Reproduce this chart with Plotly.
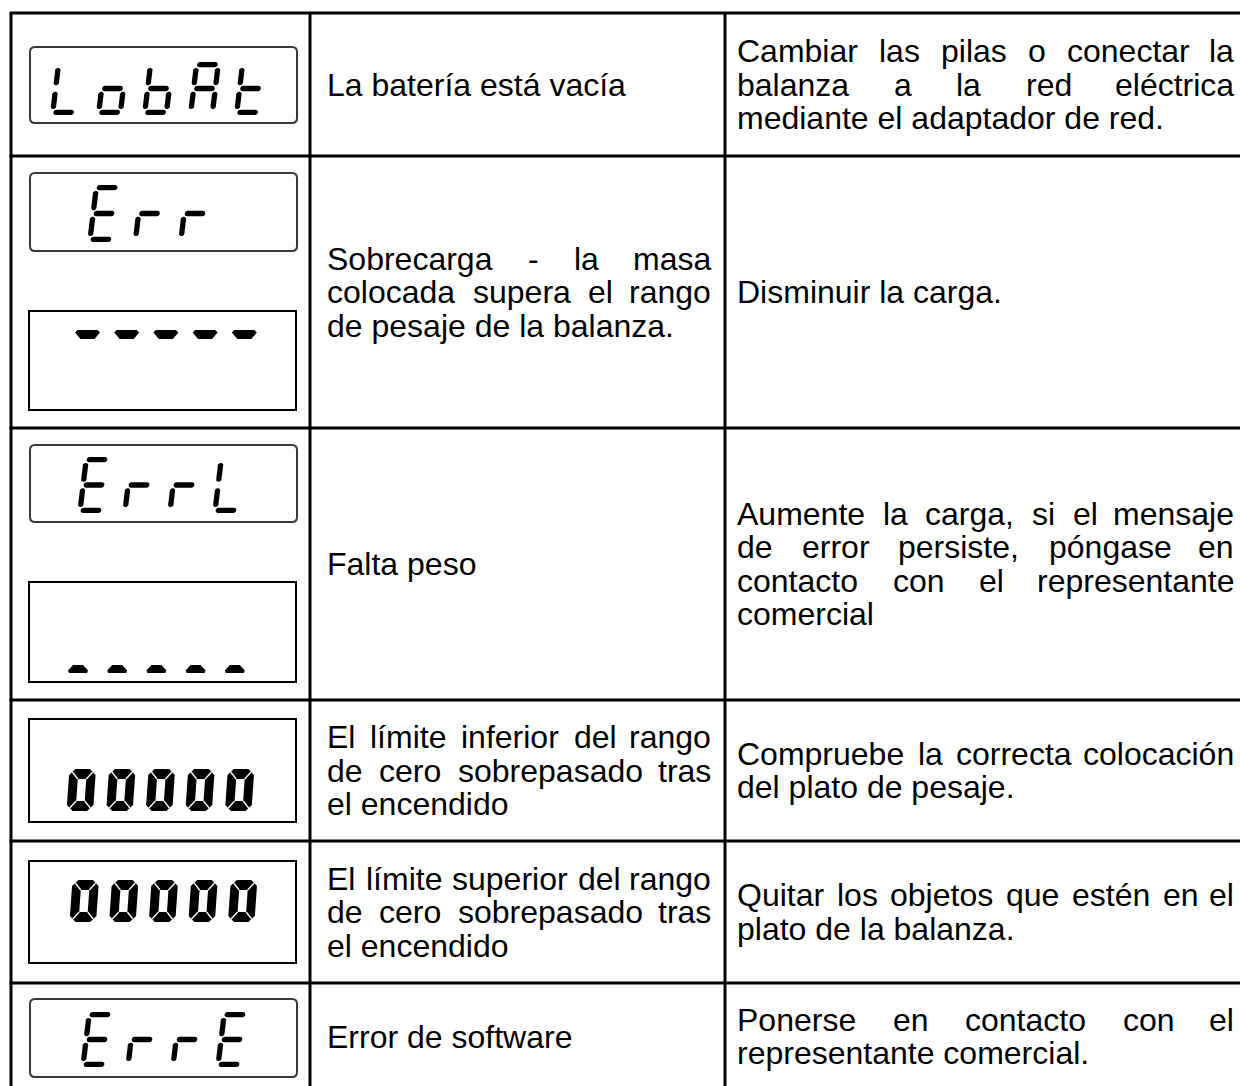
import math
import plotly.graph_objects as go

# ---------------- data ----------------
displays = ["LobAt", "Err|-----", "ErrL|_____", "00000", "00000", "ErrE"]

col2_lines = [
    ["La batería está vacía"],
    ["Sobrecarga - la masa", "colocada supera el rango", "de pesaje de la balanza."],
    ["Falta peso"],
    ["El límite inferior del rango", "de cero sobrepasado tras", "el encendido"],
    ["El límite superior del rango", "de cero sobrepasado tras", "el encendido"],
    ["Error de software"],
]
col3_lines = [
    ["Cambiar las pilas o conectar la", "balanza a la red eléctrica", "mediante el adaptador de red."],
    ["Disminuir la carga."],
    ["Aumente la carga, si el mensaje", "de error persiste, póngase en",
     "contacto con el representante", "comercial"],
    ["Compruebe la correcta colocación", "del plato de pesaje."],
    ["Quitar los objetos que estén en el", "plato de la balanza."],
    ["Ponerse en contacto con el", "representante comercial."],
]

# seven-segment maps
SEG = {'L': 'def', 'o': 'cdeg', 'b': 'cdefg', 'A': 'abcefg', 't': 'defg',
       'E': 'adefg', 'r': 'eg', '0': 'abcdef'}

# ---------------- layout ----------------
W_IMG, H_IMG = 1240, 1086
row_edges = [13, 156, 428, 700, 841, 983, 1090]
col_edges = [11, 310, 725, 1252]
FS = 32
LS = 33.5
FONT = "Liberation Sans, Arial, sans-serif"
C2L, C2R = 326, 712
C3L, C3R = 736, 1235

HW = {' ': 278, 'a': 556, 'b': 556, 'c': 500, 'd': 556, 'e': 556, 'f': 278, 'g': 556, 'h': 556,
      'i': 222, 'j': 222, 'k': 500, 'l': 222, 'm': 833, 'n': 556, 'o': 556, 'p': 556, 'q': 556,
      'r': 333, 's': 500, 't': 278, 'u': 556, 'v': 500, 'w': 722, 'x': 500, 'y': 500, 'z': 500,
      'A': 667, 'B': 667, 'C': 722, 'D': 722, 'E': 667, 'F': 611, 'G': 778, 'H': 722, 'I': 278,
      'J': 500, 'K': 667, 'L': 556, 'M': 833, 'N': 722, 'O': 778, 'P': 667, 'Q': 778, 'R': 722,
      'S': 667, 'T': 611, 'U': 722, 'V': 667, 'W': 944, 'X': 667, 'Y': 667, 'Z': 611,
      '.': 278, ',': 278, '-': 333, 'á': 556, 'é': 556, 'í': 278, 'ó': 556, 'ú': 556, 'ñ': 556}


def tw(s):
    return sum(HW.get(ch, 556) for ch in s) * FS / 1000.0


fig = go.Figure()
fig.add_trace(go.Scatter(x=[0], y=[0], mode="markers", marker=dict(opacity=0),
                         hoverinfo="skip", showlegend=False))

shapes = []
annotations = []

# table grid
for y in row_edges:
    shapes.append(dict(type="line", x0=col_edges[0] - 1.5, x1=col_edges[-1], y0=y, y1=y,
                       line=dict(color="black", width=3)))
for x in col_edges:
    shapes.append(dict(type="line", x0=x, x1=x, y0=row_edges[0], y1=row_edges[-1],
                       line=dict(color="black", width=3)))


def add_text(lines, left, right, yc):
    n = len(lines)
    for i, line in enumerate(lines):
        y = yc + (i - (n - 1) / 2.0) * LS
        justify = (i < n - 1)
        words = line.split(" ")
        if justify and len(words) > 1:
            widths = [tw(w) for w in words]
            gap = (right - left - sum(widths)) / (len(words) - 1)
            x = left
            for j, w in enumerate(words):
                if j == len(words) - 1:
                    annotations.append(dict(x=right + 1, y=y, text=w, xanchor="right"))
                else:
                    annotations.append(dict(x=x - 1, y=y, text=w, xanchor="left"))
                x += widths[j] + gap
        else:
            annotations.append(dict(x=left - 1, y=y, text=line, xanchor="left"))


for r in range(6):
    yc = (row_edges[r] + row_edges[r + 1]) / 2.0
    add_text(col2_lines[r], C2L, C2R, yc)
    add_text(col3_lines[r], C3L, C3R, yc)


# ---------------- LCD drawing helpers ----------------
def pth(pts):
    return "M " + " L ".join(f"{x:.2f},{y:.2f}" for x, y in pts) + " Z"


def poly(pts, color="black"):
    shapes.append(dict(type="path", path=pth(pts), fillcolor=color,
                       line=dict(width=0), layer="above"))


def skew(pts, yc, k):
    return [(x + k * (yc - y), y) for x, y in pts]


def capsule(p1, p2, r, n=7):
    dx, dy = p2[0] - p1[0], p2[1] - p1[1]
    ang = math.atan2(dy, dx)
    pts = []
    for i in range(n + 1):
        a = ang - math.pi / 2 + math.pi * i / n
        pts.append((p2[0] + r * math.cos(a), p2[1] + r * math.sin(a)))
    for i in range(n + 1):
        a = ang + math.pi / 2 + math.pi * i / n
        pts.append((p1[0] + r * math.cos(a), p1[1] + r * math.sin(a)))
    return pts


def thin_char(ch, cx, y0, H, W=27, t=5.3, k=0.12):
    oh = 0.6 * t    # horizontal inset
    ov = 1.1 * t    # vertical inset
    xl, xr = cx - W / 2 + t / 2, cx + W / 2 - t / 2
    yt, ym, yb = y0 + t / 2, y0 + H / 2, y0 + H - t / 2
    yc = y0 + H / 2
    r = t / 2
    segs = {
        'a': capsule((xl + oh, yt), (xr - oh, yt), r),
        'b': capsule((xr, yt + ov), (xr, ym - ov), r),
        'c': capsule((xr, ym + ov), (xr, yb - ov), r),
        'd': capsule((xl + oh, yb), (xr - oh, yb), r),
        'e': capsule((xl, ym + ov), (xl, yb - ov), r),
        'f': capsule((xl, yt + ov), (xl, ym - ov), r),
        'g': capsule((xl + oh, ym), (xr - oh, ym), r)}
    for s in SEG[ch]:
        poly(skew(segs[s], yc, k))


def bold_zero(x0, y0, H=42, W=26.5, th=10, tv=9, c=6, k=0.07):
    yc = y0 + H / 2
    x1, y1 = x0 + W, y0 + H
    outer = [(x0 + c, y0), (x1 - c, y0), (x1, y0 + c), (x1, y1 - c), (x1 - c, y1),
             (x0 + c, y1), (x0, y1 - c), (x0, y0 + c)]
    poly(skew(outer, yc, k))
    ix0, ix1, iy0, iy1 = x0 + tv, x1 - tv, y0 + th, y1 - th
    inner = [(ix0, iy0), (ix1, iy0), (ix1, iy1), (ix0, iy1)]
    poly(skew(inner, yc, k), "white")
    for (ix, iy), (ox, oy) in [((ix0, iy0), (x0 + c / 2, y0 + c / 2)),
                               ((ix1, iy0), (x1 - c / 2, y0 + c / 2)),
                               ((ix1, iy1), (x1 - c / 2, y1 - c / 2)),
                               ((ix0, iy1), (x0 + c / 2, y1 - c / 2))]:
        a, b = skew([(ix, iy), (ox, oy)], yc, k)
        shapes.append(dict(type="line", x0=a[0], y0=a[1], x1=b[0], y1=b[1],
                           line=dict(color="white", width=1.3), layer="above"))


def rounded_box(x0, y0, x1, y1, r=5, color="#3a3a3a", width=2):
    p = (f"M {x0 + r},{y0} L {x1 - r},{y0} Q {x1},{y0} {x1},{y0 + r} L {x1},{y1 - r} "
         f"Q {x1},{y1} {x1 - r},{y1} L {x0 + r},{y1} Q {x0},{y1} {x0},{y1 - r} "
         f"L {x0},{y0 + r} Q {x0},{y0} {x0 + r},{y0} Z")
    shapes.append(dict(type="path", path=p, line=dict(color=color, width=width),
                       fillcolor="rgba(0,0,0,0)", layer="above"))


def square_box(x0, y0, x1, y1):
    shapes.append(dict(type="rect", x0=x0, y0=y0, x1=x1, y1=y1,
                       line=dict(color="black", width=2), layer="above"))


def thin_display(text, box, first_cx, pitch, y0, H):
    rounded_box(*box)
    for i, ch in enumerate(text):
        thin_char(ch, first_cx + i * pitch, y0, H)


def dash_display(text, box, first_x, pitch, y0):
    square_box(*box)
    for i, ch in enumerate(text):
        x = first_x + i * pitch
        if ch == '-':
            pts = [(x, y0 + 2.5), (x + 2.5, y0), (x + 22.5, y0), (x + 25, y0 + 2.5),
                   (x + 19.5, y0 + 9), (x + 5.5, y0 + 9)]
        else:
            pts = [(x + 5, y0), (x + 15, y0), (x + 20, y0 + 5.5), (x + 19, y0 + 8),
                   (x + 1, y0 + 8), (x, y0 + 5.5)]
        poly(pts)


def bold_display(text, box, first_x, pitch, y0, H):
    square_box(*box)
    for i, ch in enumerate(text):
        bold_zero(first_x + i * pitch, y0, H)


# row 1
thin_display(displays[0], (30, 47, 297, 123), 66.5, 46, 62, 53)
# row 2
top2, bot2 = displays[1].split("|")
thin_display(top2, (30, 173, 297, 251), 104, 45.5, 185, 57)
dash_display(bot2, (29, 311, 296, 410), 75, 39.2, 330)
# row 3
top3, bot3 = displays[2].split("|")
thin_display(top3, (30, 445, 297, 522), 94, 45, 457, 56)
dash_display(bot3, (29, 582, 296, 682), 68, 39.2, 665)
# row 4, 5
bold_display(displays[3], (29, 719, 296, 822), 68, 39.6, 769, 42)
bold_display(displays[4], (29, 861, 296, 963), 71, 39.6, 880, 42)
# row 6
thin_display(displays[5], (30, 999, 297, 1077), 97, 45, 1012, 55)

for a in annotations:
    a.update(dict(xref="x", yref="y", yanchor="middle", showarrow=False,
                  font=dict(family=FONT, size=FS, color="black")))

fig.update_layout(
    width=W_IMG, height=H_IMG, margin=dict(l=0, r=0, t=0, b=0),
    paper_bgcolor="white", plot_bgcolor="white",
    xaxis=dict(range=[0, W_IMG], visible=False, fixedrange=True),
    yaxis=dict(range=[H_IMG, 0], visible=False, fixedrange=True),
    shapes=shapes, annotations=annotations, showlegend=False,
)
fig.write_html("out.html", config={"displayModeBar": False},
               post_script="document.body.style.margin='0px';document.body.style.overflow='hidden';")
